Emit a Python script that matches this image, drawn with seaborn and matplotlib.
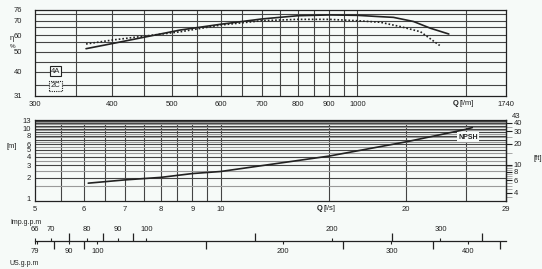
import numpy as np
import pandas as pd
import matplotlib
matplotlib.use('Agg')
import matplotlib.pyplot as plt
import seaborn as sns
from matplotlib.ticker import NullFormatter, NullLocator

# ---------------- data ----------------
# efficiency curves (Q in l/min, efficiency in %)
q_4a = [363, 400, 516, 600, 700, 800, 900, 1000, 1090, 1144, 1233, 1314, 1407]
eff_4a = [51.6, 54.3, 63.3, 67.3, 71.3, 73.7, 74.3, 74.0, 73.0, 72.5, 69.4, 64.4, 60.8]
q_2c = [363, 400, 516, 600, 700, 800, 900, 1000, 1090, 1175, 1266, 1299, 1360]
eff_2c = [54.1, 56.6, 62.2, 66.7, 70.0, 71.0, 71.0, 70.0, 68.8, 65.5, 62.2, 59.0, 53.3]
# NPSH curve (Q in l/s, NPSH in m)
q_npsh = [6.1, 7, 8, 9, 10, 15, 20, 25, 25.6]
npsh_m = [1.67, 1.86, 2.02, 2.29, 2.45, 4.07, 6.5, 9.8, 10.4]

# tick labels
top_xticks = [300, 400, 500, 600, 700, 800, 900, 1000, 1740]
top_yticks = [31, 40, 50, 60, 70, 76]
bot_xticks = [5, 6, 7, 8, 9, 10, 20, 29]
bot_yticks = [1, 2, 3, 4, 5, 6, 8, 10, 13]
ft_ticks = [3, 4, 6, 8, 10, 20, 30, 40, 43]
ft_labels = ['3', '4', '6', '8', '10', '20', '30', '40', '']
ft_top_label = '43'
ft_minor = [3.5, 4.5, 5, 5.5, 6.5, 7, 7.5, 8.5, 9, 9.5, 15, 25, 35]
imp_ticks = [66, 70, 80, 90, 100, 200, 300]
imp_labels = ['66', '70', '80', '90', '100', '200', '300']
imp_minor = [75, 85, 95, 150, 250, 350]
us_ticks = [79.3, 80, 90, 100, 200, 300, 400]
us_labels = ['79', '', '90', '100', '200', '300', '400']
us_minor = [85, 95, 150, 250, 350, 450]

# grid definitions
top_vgrid = list(range(350, 1001, 50)) + [1500]
top_hgrid = [35, 40, 45, 50, 55, 60, 65, 70, 75]
bot_vgrid = [5.5, 6, 6.5, 7, 7.5, 8, 8.5, 9, 9.5, 10, 15, 20, 25]
bot_hgrid = [x / 2 for x in range(3, 27)]

# custom efficiency axis scale (value -> height)
eff_vals = [31, 35, 40, 45, 50, 55, 60, 65, 70, 75, 76]
eff_h = [0, 10.5, 23.8, 33.8, 43.8, 53.2, 60.2, 68.2, 74.8, 81.5, 85.5]

# ---------------- style ----------------
sns.set_style('white')
plt.rcParams['font.family'] = ['Liberation Sans', 'DejaVu Sans']
plt.rcParams['font.size'] = 5.5
BG = '#f6faf8'
INK = '#222222'

W, H = 542, 269
fig = plt.figure(figsize=(W / 100, H / 100), dpi=100, facecolor=BG)


def fx(px):
    return px / W


def fy(py):
    return 1 - py / H


L, R = 35, 505.7

# ---------------- top panel ----------------
ax1 = fig.add_axes([fx(L), fy(95.5), (R - L) / W, (95.5 - 10) / H])
ax1.set_facecolor(BG)
d4a = pd.DataFrame({'Q': q_4a, 'eff': eff_4a})
d2c = pd.DataFrame({'Q': q_2c, 'eff': eff_2c})
sns.lineplot(data=d4a, x='Q', y='eff', ax=ax1, color=INK, lw=1.2,
             estimator=None, sort=False, zorder=5)
sns.lineplot(data=d2c, x='Q', y='eff', ax=ax1, color=INK, lw=1.2,
             linestyle=(0, (1, 1.2)), estimator=None, sort=False, zorder=5)
ax1.set_xscale('log')
ax1.set_yscale('function', functions=(lambda v: np.interp(v, eff_vals, eff_h),
                                      lambda h: np.interp(h, eff_h, eff_vals)))
ax1.set_xlim(300, 1740)
ax1.set_ylim(31, 76)
for v in top_vgrid:
    ax1.axvline(v, color='#444444', lw=0.8, zorder=1)
for v in top_hgrid:
    ax1.axhline(v, color='#444444', lw=0.8, zorder=1)
ax1.xaxis.set_minor_locator(NullLocator())
ax1.set_xticks(top_xticks)
ax1.set_xticklabels([str(t) for t in top_xticks])
ax1.set_yticks(top_yticks)
ax1.set_yticklabels([str(t) for t in top_yticks])
ax1.yaxis.set_minor_locator(NullLocator())
ax1.tick_params(axis='x', length=0, pad=4, colors=INK)
ax1.tick_params(axis='y', length=0, pad=9.5, colors=INK)
ax1.set_xlabel('')
ax1.set_ylabel('')
for s in ax1.spines.values():
    s.set_color(INK)
    s.set_linewidth(0.9)

fig.text(fx(12), fy(39), 'η', ha='center', va='center', color=INK, fontsize=5.5)
fig.text(fx(12.5), fy(46.5), '%', ha='center', va='center', color=INK, fontsize=4.5)
fig.text(fx(453), fy(103.5), 'Q', ha='left', va='center', color=INK, fontweight='bold')
fig.text(fx(459), fy(103.5), '[l/m]', ha='left', va='center', color=INK)
fig.text(fx(55.5), fy(71), '4A', ha='center', va='center', color=INK, fontsize=5.5,
         bbox=dict(boxstyle='square,pad=0.15', fc=BG, ec=INK, lw=0.8))
fig.text(fx(55.5), fy(86), '2C', ha='center', va='center', color=INK, fontsize=5.5,
         bbox=dict(boxstyle='square,pad=0.15', fc=BG, ec=INK, lw=0.8, ls=(0, (1, 1))))

# ---------------- bottom panel ----------------
ax2 = fig.add_axes([fx(L), fy(201.3), (R - L) / W, (201.3 - 120.5) / H])
ax2.set_facecolor(BG)
dn = pd.DataFrame({'Q': q_npsh, 'NPSH': npsh_m})
sns.lineplot(data=dn, x='Q', y='NPSH', ax=ax2, color=INK, lw=1.2,
             estimator=None, sort=False, zorder=5)
ax2.set_xscale('log')
ax2.set_yscale('log')
ax2.set_xlim(5, 29)
ax2.set_ylim(0.92, 13.1)
for v in bot_vgrid:
    ax2.axvline(v, color='#444444', lw=0.8, zorder=1)
for v in bot_hgrid:
    ax2.axhline(v, color='#444444' if float(v).is_integer() else '#9a9a9a', lw=0.8, zorder=1)
ax2.xaxis.set_minor_locator(NullLocator())
ax2.yaxis.set_minor_locator(NullLocator())
ax2.set_xticks(bot_xticks)
ax2.set_xticklabels([str(t) for t in bot_xticks])
ax2.set_yticks(bot_yticks)
ax2.set_yticklabels([str(t) for t in bot_yticks])
ax2.tick_params(axis='x', length=0, pad=3.5, colors=INK)
ax2.tick_params(axis='y', length=0, pad=3, colors=INK)
ax2.set_xlabel('')
ax2.set_ylabel('')
for s in ax2.spines.values():
    s.set_color(INK)
    s.set_linewidth(0.9)

sec = ax2.secondary_yaxis('right', functions=(lambda m: m * 3.28084, lambda f: f / 3.28084))
sec.set_yticks(ft_ticks)
sec.set_yticklabels(ft_labels)
sec.set_yticks(ft_minor, minor=True)
sec.yaxis.set_minor_formatter(NullFormatter())
sec.tick_params(which='major', length=4.5, width=0.8, pad=1.2, colors=INK)
sec.tick_params(which='minor', length=4.5, width=0.6, color='#9a9a9a')
sec.spines['right'].set_color(INK)
sec.spines['right'].set_linewidth(0.9)
fig.text(fx(512), fy(116.5), ft_top_label, ha='left', va='center', color=INK)

ax2.text(25.2, 7.6, 'NPSH', ha='center', va='center', color=INK, fontsize=5,
         fontweight='bold', zorder=6,
         bbox=dict(boxstyle='square,pad=0.2', fc=BG, ec='none'))
fig.text(fx(11.5), fy(146), '[m]', ha='center', va='center', color=INK)
fig.text(fx(537.5), fy(159), '[ft]', ha='center', va='center', color=INK)
fig.text(fx(317), fy(209), 'Q', ha='left', va='center', color=INK, fontweight='bold')
fig.text(fx(323), fy(209), '[l/s]', ha='left', va='center', color=INK)

# ---------------- gpm scale ----------------
ax3 = fig.add_axes([fx(L), fy(240.7), (R - L) / W, 0.0001])
ax3.patch.set_visible(False)
ax3.set_xscale('log')
ax3.set_xlim(300, 1740)
ax3.xaxis.set_major_locator(NullLocator())
ax3.xaxis.set_minor_locator(NullLocator())
ax3.set_yticks([])
for k in ['top', 'left', 'right']:
    ax3.spines[k].set_visible(False)
ax3.spines['bottom'].set_color(INK)
ax3.spines['bottom'].set_linewidth(0.9)

secT = ax3.secondary_xaxis('top', functions=(lambda q: q / 4.546, lambda g: g * 4.546))
secT.set_xticks(imp_ticks)
secT.set_xticklabels(imp_labels)
secT.set_xticks(imp_minor, minor=True)
secT.xaxis.set_minor_formatter(NullFormatter())
secT.tick_params(which='major', length=2.2, width=0.8, pad=3.5, colors=INK)
secT.tick_params(which='minor', length=6, width=0.9, color=INK)
secT.spines['top'].set_visible(False)

secB = ax3.secondary_xaxis('bottom', functions=(lambda q: q / 3.785, lambda g: g * 3.785))
secB.set_xticks(us_ticks)
secB.set_xticklabels(us_labels)
secB.set_xticks(us_minor, minor=True)
secB.xaxis.set_minor_formatter(NullFormatter())
secB.tick_params(which='major', length=2.5, width=0.8, pad=3, colors=INK)
secB.tick_params(which='minor', length=5.5, width=0.9, color=INK)
secB.spines['bottom'].set_visible(False)

fig.text(fx(10), fy(222), 'Imp.g.p.m', ha='left', va='center', color=INK, fontsize=5)
fig.text(fx(9), fy(263.5), 'US.g.p.m', ha='left', va='center', color=INK, fontsize=5)

fig.savefig('out.png', dpi=100, facecolor=BG)
